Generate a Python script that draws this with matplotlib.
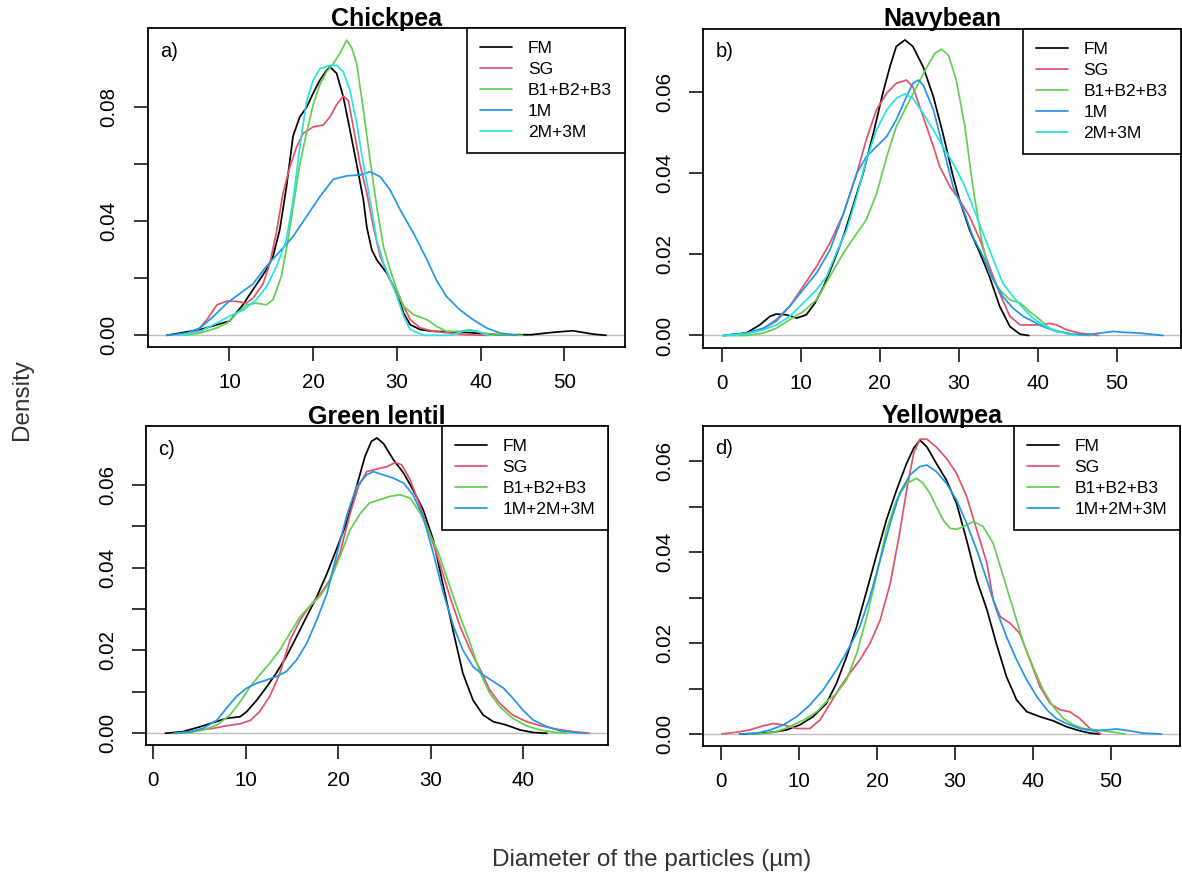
import matplotlib
matplotlib.use("Agg")
import matplotlib.pyplot as plt

plt.rcParams['font.family'] = ['Liberation Sans', 'DejaVu Sans']

# ---------------- data ----------------
series_names_5 = ["FM", "SG", "B1+B2+B3", "1M", "2M+3M"]
series_names_4 = ["FM", "SG", "B1+B2+B3", "1M+2M+3M"]
colors_5 = ["#000000", "#DF536B", "#61D04F", "#2297E6", "#28E2E5"]
colors_4 = ["#000000", "#DF536B", "#61D04F", "#2297E6"]
titles = ["Chickpea", "Navybean", "Green lentil", "Yellowpea"]
letters = ["a)", "b)", "c)", "d)"]

# Panel a: Chickpea
a_FM_x = [2.5, 6.5, 10.0, 11.6, 12.8, 14.4, 15.2, 16.0, 16.8, 17.6, 18.4, 19.2, 20.0, 20.8, 21.6, 22.0, 22.8, 23.6, 24.4, 25.2, 26.0, 26.4, 27.0, 27.6, 28.8, 30.0, 30.8, 31.6, 32.8, 34.4, 38.3, 42.3, 46.0, 48.5, 51.0, 53.5, 55.0]
a_FM_y = [0.0, 0.002, 0.005, 0.0107, 0.016, 0.023, 0.0277, 0.037, 0.052, 0.070, 0.0767, 0.080, 0.085, 0.0896, 0.093, 0.0942, 0.092, 0.0837, 0.072, 0.060, 0.0475, 0.038, 0.030, 0.0265, 0.0218, 0.0148, 0.0078, 0.0037, 0.002, 0.0014, 0.001, 0.0002, 0.0002, 0.0010, 0.0016, 0.0004, 0.0]
a_SG_x = [4.5, 6.1, 7.3, 8.5, 9.7, 10.9, 12.0, 12.8, 14.0, 14.8, 15.6, 16.4, 17.2, 18.0, 18.8, 20.0, 21.2, 22.0, 22.8, 23.6, 24.2, 24.8, 25.6, 26.4, 27.2, 28.0, 29.2, 30.4, 31.6, 32.8, 34.4, 36.3, 38.3, 41.0]
a_SG_y = [0.0, 0.0014, 0.0055, 0.0107, 0.012, 0.0119, 0.0113, 0.013, 0.018, 0.025, 0.036, 0.050, 0.059, 0.066, 0.0709, 0.0732, 0.0738, 0.0767, 0.081, 0.084, 0.0825, 0.073, 0.060, 0.050, 0.038, 0.0277, 0.0195, 0.0125, 0.0055, 0.0026, 0.0014, 0.0008, 0.0002, 0.0]
a_B_x = [4.5, 6.5, 8.5, 9.7, 10.9, 12.0, 13.2, 14.4, 15.2, 16.2, 17.0, 17.6, 18.4, 19.2, 20.0, 20.8, 21.6, 22.4, 23.2, 24.0, 24.6, 25.2, 26.0, 26.8, 27.6, 28.4, 29.2, 30.0, 30.8, 32.0, 33.6, 34.7, 35.9, 37.5, 38.7, 40.3, 42.3, 45.0]
a_B_y = [0.0, 0.0008, 0.0026, 0.0043, 0.0078, 0.0107, 0.0113, 0.0107, 0.0125, 0.0207, 0.0335, 0.045, 0.0600, 0.0710, 0.0810, 0.0880, 0.0925, 0.0954, 0.099, 0.1036, 0.101, 0.0954, 0.079, 0.0615, 0.045, 0.031, 0.023, 0.016, 0.0102, 0.0072, 0.0055, 0.0032, 0.0014, 0.0014, 0.002, 0.0008, 0.0002, 0.0]
a_1M_x = [2.5, 4.9, 6.5, 8.1, 9.7, 11.3, 12.8, 14.4, 16.0, 17.6, 19.2, 20.8, 22.4, 24.0, 25.6, 26.8, 28.0, 29.2, 30.4, 32.0, 33.6, 34.7, 35.9, 37.5, 39.1, 40.7, 42.3, 44.3]
a_1M_y = [0.0, 0.0008, 0.0026, 0.0067, 0.0113, 0.0148, 0.018, 0.0242, 0.0294, 0.0347, 0.0417, 0.0487, 0.0548, 0.056, 0.0563, 0.0574, 0.0557, 0.051, 0.044, 0.0358, 0.0265, 0.0195, 0.0137, 0.009, 0.0055, 0.0026, 0.0008, 0.0]
a_23M_x = [4.0, 6.5, 8.5, 10.0, 11.7, 13.2, 14.4, 15.6, 16.8, 17.6, 18.4, 19.2, 20.0, 20.8, 22.0, 22.8, 23.6, 24.4, 25.2, 26.0, 26.8, 27.6, 28.4, 29.2, 30.0, 30.8, 31.6, 33.2, 36.3, 38.0, 39.5, 41.0]
a_23M_y = [0.0, 0.0014, 0.0043, 0.0067, 0.009, 0.0125, 0.017, 0.024, 0.0335, 0.0475, 0.066, 0.082, 0.0895, 0.0936, 0.0948, 0.0948, 0.0925, 0.086, 0.0744, 0.060, 0.0475, 0.0335, 0.0254, 0.0195, 0.0137, 0.0067, 0.002, 0.0, 0.0, 0.0015, 0.0015, 0.0]

# Panel b: Navybean
b_FM_x = [0.2, 3.1, 4.8, 6.1, 6.9, 8.2, 9.5, 10.7, 11.8, 12.9, 14.1, 15.4, 16.6, 17.9, 19.2, 20.4, 21.3, 22.1, 23.2, 24.2, 25.5, 26.8, 28.0, 29.3, 30.1, 31.4, 32.7, 33.9, 35.2, 36.5, 37.8, 38.9]
b_FM_y = [0.0, 0.0006, 0.0026, 0.0047, 0.0053, 0.0051, 0.0043, 0.0051, 0.008, 0.0121, 0.0178, 0.0244, 0.0318, 0.040, 0.0499, 0.0598, 0.0663, 0.0713, 0.0729, 0.0713, 0.0663, 0.0589, 0.0499, 0.0392, 0.0335, 0.026, 0.0203, 0.0146, 0.0072, 0.0022, 0.0003, 0.0]
b_SG_x = [0.2, 3.1, 5.3, 6.9, 8.6, 10.3, 12.0, 13.7, 15.4, 17.1, 18.3, 19.6, 20.9, 22.1, 23.4, 24.2, 25.5, 26.8, 27.6, 28.9, 30.1, 31.4, 32.7, 33.9, 35.2, 36.5, 37.8, 39.0, 40.3, 41.5, 42.4, 43.7, 45.3, 47.7]
b_SG_y = [0.0, 0.0004, 0.0018, 0.0035, 0.0072, 0.0121, 0.017, 0.0228, 0.030, 0.040, 0.0483, 0.0557, 0.0598, 0.0622, 0.063, 0.0614, 0.054, 0.0466, 0.0417, 0.0367, 0.0335, 0.0293, 0.0236, 0.017, 0.0104, 0.0047, 0.0026, 0.0026, 0.0026, 0.003, 0.0026, 0.0014, 0.0006, 0.0]
b_B_x = [0.2, 3.1, 5.3, 6.9, 8.6, 10.3, 12.0, 13.7, 15.4, 17.1, 18.3, 19.6, 20.9, 22.1, 23.4, 24.7, 26.0, 27.0, 27.8, 28.7, 29.7, 30.8, 31.8, 32.9, 33.9, 35.2, 36.5, 37.8, 39.0, 40.3, 41.5, 42.8, 44.5, 46.6]
b_B_y = [0.0, 0.0, 0.0006, 0.0018, 0.0039, 0.0059, 0.0088, 0.0146, 0.0203, 0.0252, 0.0285, 0.035, 0.0441, 0.0515, 0.0565, 0.0614, 0.0663, 0.0696, 0.0706, 0.0692, 0.063, 0.0515, 0.0367, 0.0236, 0.0154, 0.0113, 0.0088, 0.008, 0.0059, 0.0039, 0.0018, 0.001, 0.0003, 0.0]
b_1M_x = [0.2, 3.1, 5.3, 6.9, 8.6, 10.3, 12.0, 13.7, 15.4, 17.1, 18.3, 19.6, 20.9, 22.1, 23.4, 24.2, 24.9, 25.5, 26.8, 28.0, 29.3, 30.6, 31.8, 33.1, 34.4, 35.6, 36.9, 38.2, 39.4, 40.7, 42.4, 44.5, 46.2, 47.9, 49.6, 50.8, 52.9, 55.9]
b_1M_y = [0.0, 0.0006, 0.0018, 0.0039, 0.0072, 0.0113, 0.0154, 0.0211, 0.030, 0.040, 0.0441, 0.0466, 0.0491, 0.0532, 0.0589, 0.0622, 0.063, 0.0618, 0.0557, 0.0466, 0.0367, 0.031, 0.0244, 0.0195, 0.0137, 0.0096, 0.0067, 0.0047, 0.0035, 0.0022, 0.001, 0.0003, 0.0002, 0.0006, 0.001, 0.0008, 0.0006, 0.0]
b_23M_x = [0.2, 3.1, 5.3, 6.9, 8.6, 10.3, 12.0, 13.3, 14.5, 15.8, 17.1, 18.3, 19.6, 20.9, 22.1, 23.2, 24.2, 25.5, 26.8, 28.0, 29.3, 30.6, 31.8, 33.1, 34.4, 35.6, 36.9, 38.2, 39.4, 40.7, 41.9, 43.7, 44.9]
b_23M_y = [0.0, 0.0004, 0.0014, 0.0026, 0.0047, 0.008, 0.0113, 0.0146, 0.0203, 0.026, 0.0343, 0.0433, 0.0507, 0.0557, 0.0585, 0.0596, 0.0585, 0.0548, 0.0507, 0.0466, 0.0425, 0.0376, 0.0318, 0.0252, 0.0187, 0.0129, 0.0096, 0.0067, 0.0043, 0.0026, 0.0014, 0.0004, 0.0]

# Panel c: Green lentil
c_FM_x = [1.3, 3.2, 5.1, 6.5, 7.9, 9.4, 10.1, 11.2, 12.3, 13.3, 14.4, 15.5, 16.6, 17.7, 18.8, 19.8, 20.9, 22.0, 22.9, 23.6, 24.2, 24.9, 26.0, 27.1, 28.1, 29.2, 30.3, 31.4, 32.5, 33.5, 34.6, 35.7, 36.8, 38.2, 39.7, 41.1, 42.6]
c_FM_y = [0.0, 0.0004, 0.0016, 0.0026, 0.0036, 0.004, 0.0052, 0.008, 0.0113, 0.0145, 0.0185, 0.0233, 0.0282, 0.033, 0.0386, 0.0443, 0.0507, 0.0596, 0.0668, 0.0705, 0.0713, 0.070, 0.066, 0.0628, 0.0588, 0.054, 0.0467, 0.0354, 0.0242, 0.0145, 0.008, 0.0044, 0.0028, 0.002, 0.0008, 0.0002, 0.0]
c_SG_x = [2.5, 3.6, 5.1, 6.5, 7.9, 9.4, 10.5, 11.5, 12.6, 13.7, 14.8, 15.9, 16.9, 18.0, 19.1, 20.2, 21.3, 22.2, 23.1, 24.2, 25.3, 26.2, 26.9, 27.8, 28.9, 29.9, 31.0, 32.1, 33.2, 34.3, 35.4, 36.4, 37.5, 38.9, 40.4, 41.8, 43.6, 45.5, 47.2]
c_SG_y = [0.0, 0.0002, 0.0008, 0.0012, 0.0018, 0.0023, 0.0031, 0.0052, 0.0089, 0.0145, 0.0225, 0.0274, 0.0306, 0.0334, 0.037, 0.0435, 0.0531, 0.0596, 0.0632, 0.0638, 0.0644, 0.0654, 0.0648, 0.0612, 0.0547, 0.0483, 0.041, 0.033, 0.0258, 0.0201, 0.0153, 0.0105, 0.0072, 0.0044, 0.0028, 0.0019, 0.001, 0.0004, 0.0]
c_B_x = [2.3, 4.0, 5.4, 6.9, 8.3, 9.4, 10.5, 11.5, 12.6, 13.7, 14.8, 15.9, 16.9, 18.0, 19.1, 20.2, 21.3, 22.4, 23.4, 24.5, 25.6, 26.7, 27.8, 28.9, 29.9, 31.0, 32.1, 33.2, 34.3, 35.4, 36.4, 37.5, 38.9, 40.4, 41.8, 43.6, 44.7]
c_B_y = [0.0, 0.0002, 0.0008, 0.002, 0.0044, 0.0076, 0.0113, 0.0141, 0.0169, 0.0201, 0.0242, 0.0282, 0.0306, 0.033, 0.0366, 0.0427, 0.0491, 0.0531, 0.0556, 0.0564, 0.0572, 0.0576, 0.0568, 0.0531, 0.0483, 0.0427, 0.0354, 0.0282, 0.0217, 0.0145, 0.0097, 0.0064, 0.0036, 0.0018, 0.0008, 0.0002, 0.0]
c_M_x = [2.3, 4.0, 5.4, 6.9, 7.9, 9.0, 10.1, 11.2, 12.3, 13.3, 14.4, 15.5, 16.6, 17.7, 18.8, 19.8, 20.9, 22.0, 23.1, 23.8, 24.9, 26.0, 27.1, 28.1, 29.2, 30.3, 31.4, 32.5, 33.5, 34.6, 35.7, 36.8, 37.9, 38.9, 40.0, 41.1, 42.6, 44.0, 45.5, 46.9]
c_M_y = [0.0, 0.0004, 0.0012, 0.0032, 0.006, 0.0089, 0.0109, 0.0121, 0.0129, 0.0137, 0.0149, 0.0177, 0.0217, 0.0274, 0.0338, 0.0427, 0.0523, 0.0596, 0.0624, 0.0632, 0.0624, 0.0616, 0.0604, 0.0576, 0.0523, 0.0435, 0.0338, 0.0258, 0.0201, 0.0161, 0.0141, 0.0125, 0.0109, 0.0085, 0.0056, 0.0032, 0.0016, 0.0006, 0.0002, 0.0]

# Panel d: Yellowpea
d_FM_x = [2.4, 4.6, 6.7, 8.4, 10.1, 11.8, 13.5, 14.8, 16.1, 17.4, 18.7, 20.0, 21.2, 22.5, 23.8, 24.7, 25.5, 26.4, 27.6, 28.9, 30.2, 31.5, 32.8, 34.1, 35.3, 36.6, 37.9, 39.2, 40.9, 42.6, 44.3, 46.0, 47.3, 48.5]
d_FM_y = [0.0, 0.0001, 0.0004, 0.0009, 0.002, 0.0038, 0.0067, 0.0111, 0.017, 0.0236, 0.0316, 0.0397, 0.047, 0.0536, 0.0595, 0.0628, 0.0646, 0.0631, 0.0595, 0.0558, 0.0507, 0.0426, 0.0338, 0.0273, 0.0199, 0.0126, 0.0075, 0.0049, 0.0038, 0.0029, 0.0016, 0.0007, 0.0002, 0.0]
d_SG_x = [0.1, 2.0, 3.7, 5.4, 6.7, 8.0, 9.7, 11.4, 12.7, 14.0, 15.3, 16.5, 17.8, 19.1, 20.4, 21.7, 22.9, 23.8, 24.7, 25.5, 26.4, 27.6, 28.9, 30.2, 31.5, 32.8, 34.1, 34.9, 35.8, 37.1, 38.3, 39.6, 40.9, 42.2, 43.5, 44.7, 46.0, 47.3, 48.2, 48.7]
d_SG_y = [0.0, 0.0004, 0.0009, 0.0018, 0.0023, 0.002, 0.0012, 0.0012, 0.0031, 0.0067, 0.0104, 0.0133, 0.0163, 0.0199, 0.025, 0.0331, 0.0441, 0.0536, 0.0617, 0.0648, 0.0648, 0.0631, 0.0606, 0.0573, 0.0522, 0.0448, 0.0375, 0.0295, 0.0258, 0.0243, 0.0221, 0.0163, 0.0104, 0.0067, 0.0053, 0.0049, 0.0034, 0.0012, 0.0005, 0.0]
d_B_x = [3.5, 5.4, 7.1, 8.8, 10.6, 12.3, 13.5, 14.8, 16.1, 17.4, 18.7, 20.0, 21.2, 22.5, 23.8, 25.1, 25.9, 26.8, 27.6, 28.5, 29.4, 30.2, 31.1, 32.4, 33.6, 34.9, 36.2, 37.5, 38.8, 40.0, 41.3, 42.6, 43.9, 45.2, 46.5, 48.2, 49.9, 51.8]
d_B_y = [0.0, 0.0001, 0.0005, 0.0016, 0.0031, 0.0049, 0.0071, 0.0089, 0.0119, 0.0177, 0.0258, 0.0353, 0.0448, 0.0514, 0.0551, 0.0562, 0.0551, 0.0529, 0.050, 0.047, 0.0452, 0.045, 0.0456, 0.0467, 0.0456, 0.0419, 0.0346, 0.0273, 0.0199, 0.0148, 0.0097, 0.006, 0.0034, 0.002, 0.0012, 0.0009, 0.0005, 0.0]
d_M_x = [2.4, 4.6, 6.3, 8.0, 9.7, 11.4, 13.1, 14.8, 16.5, 17.8, 19.1, 20.4, 21.7, 22.9, 24.2, 25.5, 26.4, 27.6, 28.9, 30.2, 31.5, 32.8, 34.1, 35.3, 36.6, 37.9, 39.2, 40.5, 41.8, 43.0, 44.3, 46.0, 47.7, 49.4, 50.7, 52.4, 54.1, 56.5]
d_M_y = [0.0, 0.0002, 0.0009, 0.002, 0.0038, 0.0064, 0.0097, 0.0141, 0.0192, 0.0236, 0.0302, 0.0382, 0.0463, 0.0529, 0.0569, 0.0588, 0.0591, 0.0577, 0.0551, 0.0514, 0.0463, 0.0404, 0.0338, 0.0273, 0.0214, 0.0163, 0.0119, 0.0082, 0.0053, 0.0034, 0.0023, 0.0012, 0.0007, 0.0009, 0.0011, 0.0007, 0.0002, 0.0]

# axis ticks
a_xticks = [10, 20, 30, 40, 50]
b_xticks = [0, 10, 20, 30, 40, 50]
c_xticks = [0, 10, 20, 30, 40]
d_xticks = [0, 10, 20, 30, 40, 50]
a_yticks = [0.00, 0.02, 0.04, 0.06, 0.08]
a_ylabels = ["0.00", "", "0.04", "", "0.08"]
b_yticks = [0.00, 0.02, 0.04, 0.06]
b_ylabels = ["0.00", "0.02", "0.04", "0.06"]
c_yticks = [0.00, 0.01, 0.02, 0.03, 0.04, 0.05, 0.06]
c_ylabels = ["0.00", "", "0.02", "", "0.04", "", "0.06"]
d_yticks = [0.00, 0.01, 0.02, 0.03, 0.04, 0.05, 0.06]
d_ylabels = ["0.00", "", "0.02", "", "0.04", "", "0.06"]

# ---------------- layout ----------------
W, H = 1182, 881
fig = plt.figure(figsize=(W / 100, H / 100), dpi=100)
fig.patch.set_facecolor("white")

# (left, right, top, bottom) in pixels, x-limits, y-limits
panels = [
    dict(box=(147.7, 625.0, 28.3, 346.7), xlim=(0.23, 57.25), ylim=(-0.0040, 0.1078),
         curves=[(a_FM_x, a_FM_y), (a_SG_x, a_SG_y), (a_B_x, a_B_y), (a_1M_x, a_1M_y), (a_23M_x, a_23M_y)],
         names=series_names_5, colors=colors_5, xt=a_xticks, yt=a_yticks, yl=a_ylabels),
    dict(box=(703.3, 1180.5, 29.0, 347.5), xlim=(-2.34, 58.1), ylim=(-0.00296, 0.0756),
         curves=[(b_FM_x, b_FM_y), (b_SG_x, b_SG_y), (b_B_x, b_B_y), (b_1M_x, b_1M_y), (b_23M_x, b_23M_y)],
         names=series_names_5, colors=colors_5, xt=b_xticks, yt=b_yticks, yl=b_ylabels),
    dict(box=(146.0, 608.3, 426.0, 745.0), xlim=(-0.79, 49.24), ylim=(-0.00283, 0.0742),
         curves=[(c_FM_x, c_FM_y), (c_SG_x, c_SG_y), (c_B_x, c_B_y), (c_M_x, c_M_y)],
         names=series_names_4, colors=colors_4, xt=c_xticks, yt=c_yticks, yl=c_ylabels),
    dict(box=(703.3, 1180.0, 426.0, 745.7), xlim=(-2.27, 58.85), ylim=(-0.00257, 0.0677),
         curves=[(d_FM_x, d_FM_y), (d_SG_x, d_SG_y), (d_B_x, d_B_y), (d_M_x, d_M_y)],
         names=series_names_4, colors=colors_4, xt=d_xticks, yt=d_yticks, yl=d_ylabels),
]

for i, p in enumerate(panels):
    l, r, t, b = p["box"]
    ax = fig.add_axes([l / W, 1 - b / H, (r - l) / W, (b - t) / H])
    ax.set_xlim(*p["xlim"])
    ax.set_ylim(*p["ylim"])
    ax.axhline(0, color="#BEBEBE", lw=1.0, zorder=1)
    for (xs, ys), name, col in zip(p["curves"], p["names"], p["colors"]):
        ax.plot(xs, ys, color=col, lw=1.25, label=name, zorder=2,
                solid_joinstyle="round", solid_capstyle="round")
    for s in ax.spines.values():
        s.set_linewidth(1.3)
        s.set_color("black")
    ax.set_xticks(p["xt"])
    ax.set_xticklabels([str(v) for v in p["xt"]])
    ax.set_yticks(p["yt"])
    ax.set_yticklabels(p["yl"])
    ax.tick_params(axis="both", direction="out", length=10, width=1.1,
                   labelsize=14.8, colors="black")
    ax.tick_params(axis="x", pad=9)
    ax.tick_params(axis="y", pad=11)
    for lab in ax.get_yticklabels():
        lab.set_rotation(90)
        lab.set_va("center")
    leg = ax.legend(loc="upper right", bbox_to_anchor=(1, 1), borderaxespad=0,
                    fontsize=12.5, frameon=True, fancybox=False, framealpha=1,
                    edgecolor="black", handlelength=1.84, handletextpad=0.9,
                    borderpad=0.75, labelspacing=0.33)
    leg.get_frame().set_linewidth(1.2)
    # title
    bw = r - l
    bh = b - t
    ax.text(0.5, 1 + 2.5 / bh, titles[i], transform=ax.transAxes, ha="center",
            va="baseline", fontsize=18, fontweight="bold")
    # panel letter
    ax.text(12 / bw, 1 - 23 / bh, letters[i], transform=ax.transAxes, ha="left",
            va="center", fontsize=14.5)

fig.text(22 / W, 1 - 400 / H, "Density", rotation=90, ha="center", va="center",
         fontsize=17.5, color="#333333")
fig.text(652 / W, 1 - 860 / H, "Diameter of the particles (µm)", ha="center",
         va="center", fontsize=17.5, color="#333333")

fig.savefig("out.png", dpi=100, facecolor="white")
